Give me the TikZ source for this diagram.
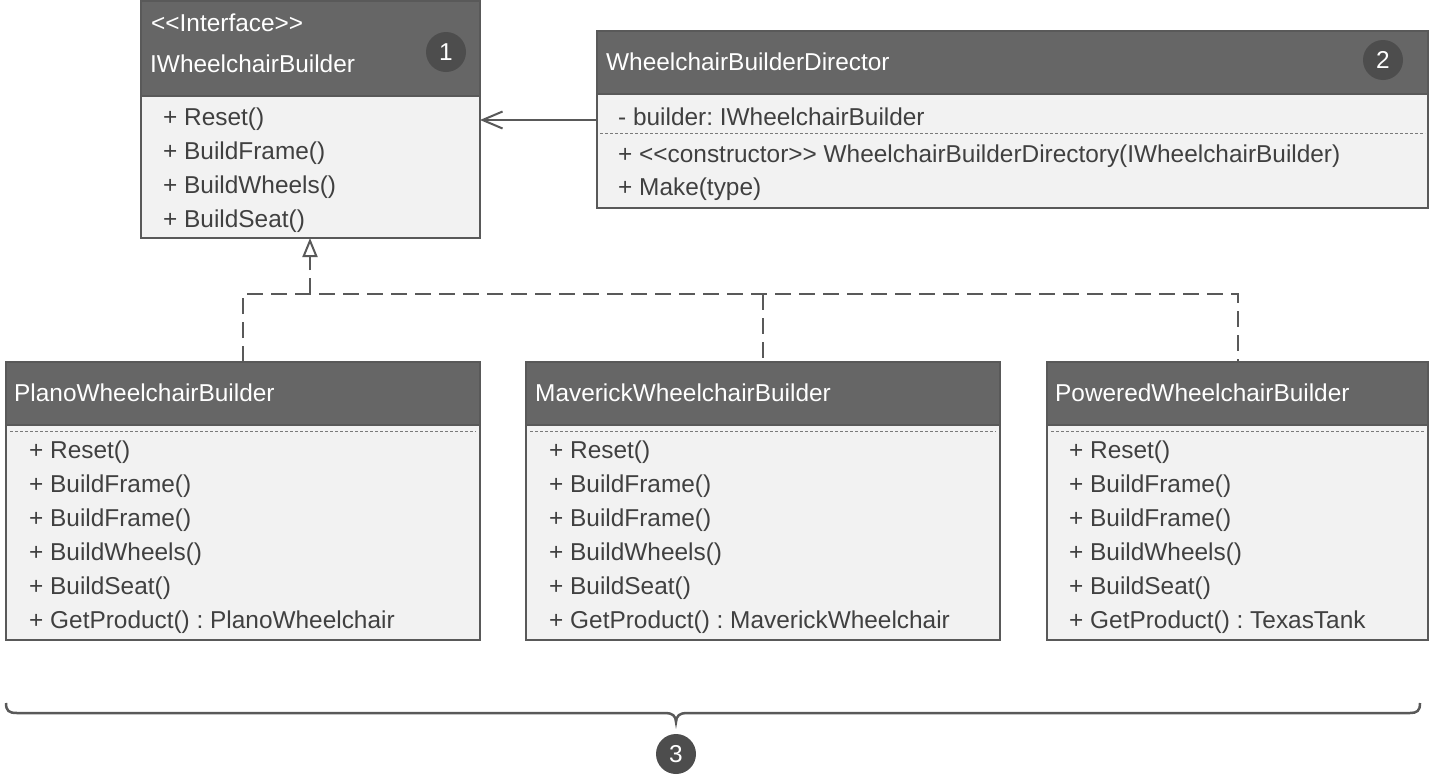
\documentclass[tikz,border=0pt]{standalone}
\usepackage{fontspec}
\setmainfont{Liberation Sans}
\usetikzlibrary{arrows.meta}
\definecolor{hdr}{HTML}{666666}
\definecolor{bodyc}{HTML}{F2F2F2}
\definecolor{edge}{HTML}{595959}
\definecolor{txt}{HTML}{404040}
\definecolor{badge}{HTML}{4D4D4D}
\newcommand{\lt}{<\kern0pt<}
\newcommand{\gt}{>\kern0pt>}
\begin{document}
\frenchspacing
\begin{tikzpicture}[x=1pt,y=-1pt,
  font=\fontsize{24.4}{30}\selectfont,
  hdrbox/.style={draw=edge, line width=2pt, fill=hdr, anchor=north west, inner sep=0pt, outer sep=0pt},
  bodybox/.style={draw=edge, line width=2pt, fill=bodyc, anchor=north west, inner sep=0pt, outer sep=0pt},
  htext/.style={anchor=base west, text=white, inner sep=0pt},
  mtext/.style={anchor=base west, text=txt, inner sep=0pt},
  badgec/.style={circle, fill=badge, text=white, minimum size=40pt, inner sep=0pt},
  sepline/.style={draw=edge!80, line width=1pt, dash pattern=on 3pt off 2pt},
  assoc/.style={draw=edge, line width=2pt, -{Straight Barb[length=20pt,width=17pt,line width=2pt]}},
  realize/.style={draw=edge, line width=2pt, dash pattern=on 16pt off 8pt},
  bracep/.style={draw=edge, line width=2.5pt}
]
\useasboundingbox (0,0) rectangle (1430,782);

% ---------- IWheelchairBuilder ----------
\node[bodybox, minimum width=339pt, minimum height=142pt] (ibody) at (141,96) {};
\node[hdrbox, minimum width=339pt, minimum height=95pt] (ihdr) at (141,1) {};
\node[htext] (it1) at (151,31) {\lt Interface\gt};
\node[htext] (it2) at (150,72) {IWheelchairBuilder};
\node[badgec] (b1) at (446,52) {1};
\node[mtext] (im1) at (163,125) {+ Reset()};
\node[mtext] (im2) at (163,159) {+ BuildFrame()};
\node[mtext] (im3) at (163,193) {+ BuildWheels()};
\node[mtext] (im4) at (163,227) {+ BuildSeat()};

% ---------- WheelchairBuilderDirector ----------
\node[bodybox, minimum width=831pt, minimum height=114pt] (dbody) at (597,94) {};
\node[hdrbox, minimum width=831pt, minimum height=63pt] (dhdr) at (597,31) {};
\node[htext] (dt) at (606,70) {WheelchairBuilderDirector};
\node[badgec] (b2) at (1383,60) {2};
\node[mtext] (dm1) at (618,125) {- builder: IWheelchairBuilder};
\draw[sepline] (600,133) -- (1425,133);
\node[mtext] (dm2) at (618,162) {+ \lt constructor\gt{} WheelchairBuilderDirectory(IWheelchairBuilder)};
\node[mtext] (dm3) at (618,195) {+ Make(type)};

% ---------- PlanoWheelchairBuilder ----------
\node[bodybox, minimum width=474pt, minimum height=215pt] (pbody) at (6,425) {};
\node[hdrbox, minimum width=474pt, minimum height=63pt] (phdr) at (6,362) {};
\node[htext] (pt) at (14,401) {PlanoWheelchairBuilder};
\draw[sepline] (10,431) -- (476,431);
\node[mtext] (pm1) at (29,458) {+ Reset()};
\node[mtext] (pm2) at (29,492) {+ BuildFrame()};
\node[mtext] (pm3) at (29,526) {+ BuildFrame()};
\node[mtext] (pm4) at (29,560) {+ BuildWheels()};
\node[mtext] (pm5) at (29,594) {+ BuildSeat()};
\node[mtext] (pm6) at (29,628) {+ GetProduct() : PlanoWheelchair};

% ---------- MaverickWheelchairBuilder ----------
\node[bodybox, minimum width=474pt, minimum height=215pt] (mbody) at (526,425) {};
\node[hdrbox, minimum width=474pt, minimum height=63pt] (mhdr) at (526,362) {};
\node[htext] (mt) at (535,401) {MaverickWheelchairBuilder};
\draw[sepline] (530,431) -- (996,431);
\node[mtext] (mm1) at (549,458) {+ Reset()};
\node[mtext] (mm2) at (549,492) {+ BuildFrame()};
\node[mtext] (mm3) at (549,526) {+ BuildFrame()};
\node[mtext] (mm4) at (549,560) {+ BuildWheels()};
\node[mtext] (mm5) at (549,594) {+ BuildSeat()};
\node[mtext] (mm6) at (549,628) {+ GetProduct() : MaverickWheelchair};

% ---------- PoweredWheelchairBuilder ----------
\node[bodybox, minimum width=381pt, minimum height=215pt] (wbody) at (1047,425) {};
\node[hdrbox, minimum width=381pt, minimum height=63pt] (whdr) at (1047,362) {};
\node[htext] (wt) at (1055,401) {PoweredWheelchairBuilder};
\draw[sepline] (1051,431) -- (1424,431);
\node[mtext] (wm1) at (1069,458) {+ Reset()};
\node[mtext] (wm2) at (1069,492) {+ BuildFrame()};
\node[mtext] (wm3) at (1069,526) {+ BuildFrame()};
\node[mtext] (wm4) at (1069,560) {+ BuildWheels()};
\node[mtext] (wm5) at (1069,594) {+ BuildSeat()};
\node[mtext] (wm6) at (1069,628) {+ GetProduct() : TexasTank};

% ---------- connectors ----------
\coordinate (ay) at (0,120);
\draw[assoc] (dbody.west |- ay) -- (ibody.east |- ay);

\coordinate (jl) at (243,294);
\coordinate (ja) at (310,294);
\coordinate (jm) at (763,294);
\coordinate (jr) at (1238,294);
\draw[realize] (jl |- phdr.north) -- (jl) -- (jr) -- (jr |- whdr.north);
\draw[realize] (jm) -- (jm |- mhdr.north);
\draw[draw=edge, line width=2pt] (ja) -- ++(0,-12);
\draw[realize, -{Triangle[open, length=19pt, width=15pt, line width=2pt, fill=white]}] (ja) -- (ja |- ibody.south);

% ---------- brace ----------
\draw[bracep] (6,703) .. controls (6,711) and (9,713) .. (17,713) -- (666,713)
  .. controls (672,713) and (676,716) .. (676,722)
  .. controls (676,716) and (680,713) .. (686,713) -- (1410,713)
  .. controls (1417,713) and (1420,711) .. (1420,703);
\node[badgec] (b3) at (676,754) {3};
\end{tikzpicture}
\end{document}
